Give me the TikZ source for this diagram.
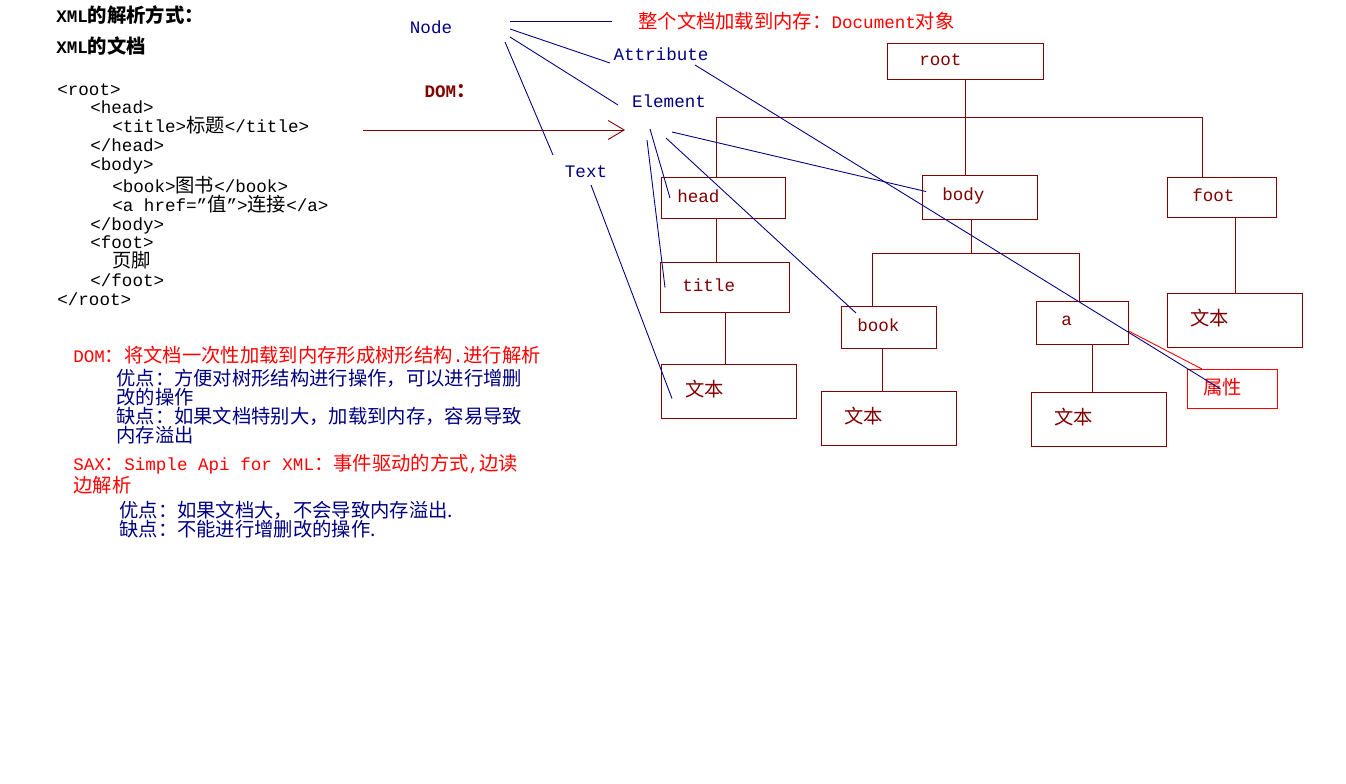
\documentclass[tikz,border=0pt]{standalone}
\usepackage{fontspec}
\setmainfont{Liberation Mono}
\newfontfamily\cjkfont[Scale=1.1]{Noto Sans CJK SC}
\newcommand{\zh}[1]{{\cjkfont #1}}
\newcommand{\pix}{\fontsize{10}{10.76}\selectfont}
\usetikzlibrary{positioning,arrows.meta}
\definecolor{domred}{HTML}{800000}
\definecolor{navy}{HTML}{000080}
\definecolor{hired}{HTML}{FF0000}
\tikzset{
  every node/.style={font=\pix},
  src/.style={align=left, inner sep=0pt, anchor=north west},
  tag/.style={text=navy, inner sep=0pt},
  navyline/.style={draw=navy, line width=0.5pt},
  redline/.style={draw=domred, line width=0.5pt},
  boxtext/.style={text=domred, inner sep=0pt, anchor=west},
  tbox/.style n args={4}{draw=domred, line width=0.6pt, anchor=north west, inner sep=0pt,
    minimum width=#1*0.02cm, minimum height=#2*0.02cm,
    label={[boxtext, xshift=#3*0.02cm, yshift=0.04cm]west:#4}},
}
\begin{document}
\begin{tikzpicture}[x=0.02cm, y=-0.02cm]
  \useasboundingbox (0,0) rectangle (1346,784);

  % left: the document
  \node[src, anchor=west, font=\pix\bfseries] (parsehead) at (56,15) {XML\zh{的解析方式：}};
  \node[src, anchor=west, font=\pix\bfseries] (dochead) at (56,46) {XML\zh{的文档}};
  \node[src] (xmlsrc) at (57,83) {<root>\\
    \hspace*{0.66cm}<head>\\
    \hspace*{1.1cm}<title>\zh{标题}</title>\\
    \hspace*{0.66cm}</head>\\
    \hspace*{0.66cm}<body>\\
    \hspace*{1.1cm}<book>\zh{图书}</book>\\
    \hspace*{1.1cm}<a href="\zh{值}">\zh{连接}</a>\\
    \hspace*{0.66cm}</body>\\
    \hspace*{0.66cm}<foot>\\
    \hspace*{1.1cm}\zh{页脚}\\
    \hspace*{0.66cm}</foot>\\
    </root>};

  % left: the two ways
  \node[src, anchor=west, text=hired] (domhead) at (73,355) {DOM\zh{：将文档一次性加载到内存形成树形结构}.\zh{进行解析}};
  \node[src, text=navy, font=\pix\cjkfont] (dompros) at (116,369) {优点：方便对树形结构进行操作，可以进行增删\\改的操作\\缺点：如果文档特别大，加载到内存，容易导致\\内存溢出};
  \node[src, text=hired] (saxhead) at (73,454) {SAX\zh{：}Simple Api for XML\zh{：事件驱动的方式},\zh{边读}\\\zh{边解析}};
  \node[src, text=navy, font=\pix\cjkfont] (saxpros) at (119,501) {优点：如果文档大，不会导致内存溢出.\\缺点：不能进行增删改的操作.};

  % node kinds
  \node[tag] (node) at (431,27) {Node};
  \node[tag] (attribute) at (661,54) {Attribute};
  \node[tag] (element) at (669,101) {Element};
  \node[tag] (textlbl) at (586,172) {Text};
  \node[inner sep=0pt, text=domred, font=\pix\bfseries] (dom) at (450,91) {DOM\zh{：}};
  \node[inner sep=0pt, text=hired, anchor=west] (doc) at (638,21) {\zh{整个文档加载到内存：}Document\zh{对象}};

  % the tree
  \node[tbox={156}{36}{32}{root}] (root) at (887,43) {};
  \node[tbox={124}{41}{16}{head}] (head) at (661,177) {};
  \node[tbox={115}{44}{20}{body}] (body) at (922,175) {};
  \node[tbox={109}{40}{25}{foot}] (foot) at (1167,177) {};
  \node[tbox={129}{50}{22}{title}] (title) at (660,262) {};
  \node[tbox={95}{42}{16}{book}] (book) at (841,306) {};
  \node[tbox={92}{43}{25}{a}] (a) at (1036,301) {};
  \node[tbox={135}{54}{24}{\zh{文本}}] (tt) at (661,364) {};
  \node[tbox={135}{54}{23}{\zh{文本}}] (bt) at (821,391) {};
  \node[tbox={135}{54}{23}{\zh{文本}}] (at) at (1031,392) {};
  \node[tbox={135}{54}{23}{\zh{文本}}] (ft) at (1167,293) {};
  \node[tbox={90}{39}{16}{\textcolor{hired}{\zh{属性}}}, draw=hired] (shuxing) at (1187,369) {};

  \coordinate (barl) at (716,117);
  \coordinate (barr) at (1202,117);
  \coordinate (bbl) at (872,253);
  \coordinate (bbm) at (971,253);
  \coordinate (bbr) at (1079,253);

  \draw[redline] (root.south) -- (root.south |- body.north);
  \draw[redline] (barl |- head.north) -- (barl) -- (barr) -- (barr |- foot.north);
  \draw[redline] (barl |- head.south) -- (barl |- title.north);
  \draw[redline] (title.south) -- (title.south |- tt.north);
  \draw[redline] (bbm |- body.south) -- (bbm);
  \draw[redline] (bbl |- book.north) -- (bbl) -- (bbr) -- (bbr |- a.north);
  \draw[redline] ([xshift=-0.13cm]book.south) -- ([xshift=-0.13cm]book.south |- bt.north);
  \draw[redline] ([xshift=0.2cm]a.south) -- ([xshift=0.2cm]a.south |- at.north);
  \draw[redline] (ft.north |- foot.south) -- (ft.north);
  \draw[draw=hired, line width=0.5pt] (a.-10) -- ([xshift=0.3cm]shuxing.north west);

  % arrow from the document to the tree
  \coordinate (arrs) at (363,130);
  \coordinate (arre) at (625,130);
  \draw[redline, -{Straight Barb[length=0.32cm, width=0.38cm]}] (arrs) -- (arre);

  % pointers
  \coordinate (n1) at (510,21);
  \coordinate (n1e) at (612,21);
  \coordinate (n2) at (510,29);
  \coordinate (n2e) at (610,63);
  \coordinate (n3) at (510,37);
  \coordinate (n3e) at (618,105);
  \coordinate (n4) at (505,42);
  \coordinate (n4e) at (553,155);
  \coordinate (at1) at (695,65);
  \coordinate (e1) at (650,129);
  \coordinate (e2) at (647,140);
  \coordinate (e3) at (666,138);
  \coordinate (e4) at (672,132);
  \coordinate (tx1) at (591,185);

  \draw[navyline] (n1) -- (n1e);
  \draw[navyline] (n2) -- (n2e);
  \draw[navyline] (n3) -- (n3e);
  \draw[navyline] (n4) -- (n4e);
  \draw[navyline] (at1) -- ([xshift=-0.24cm]shuxing.center);
  \draw[navyline] (e1) -- ([xshift=0.18cm]head.west);
  \draw[navyline] (e2) -- ([xshift=0.1cm]title.west);
  \draw[navyline] (e3) -- ([xshift=0.3cm, yshift=-0.14cm]book.north west);
  \draw[navyline] (e4) -- ([xshift=0.08cm, yshift=0.12cm]body.west);
  \draw[navyline] (tx1) -- ([xshift=0.22cm, yshift=-0.14cm]tt.west);
\end{tikzpicture}
\end{document}
